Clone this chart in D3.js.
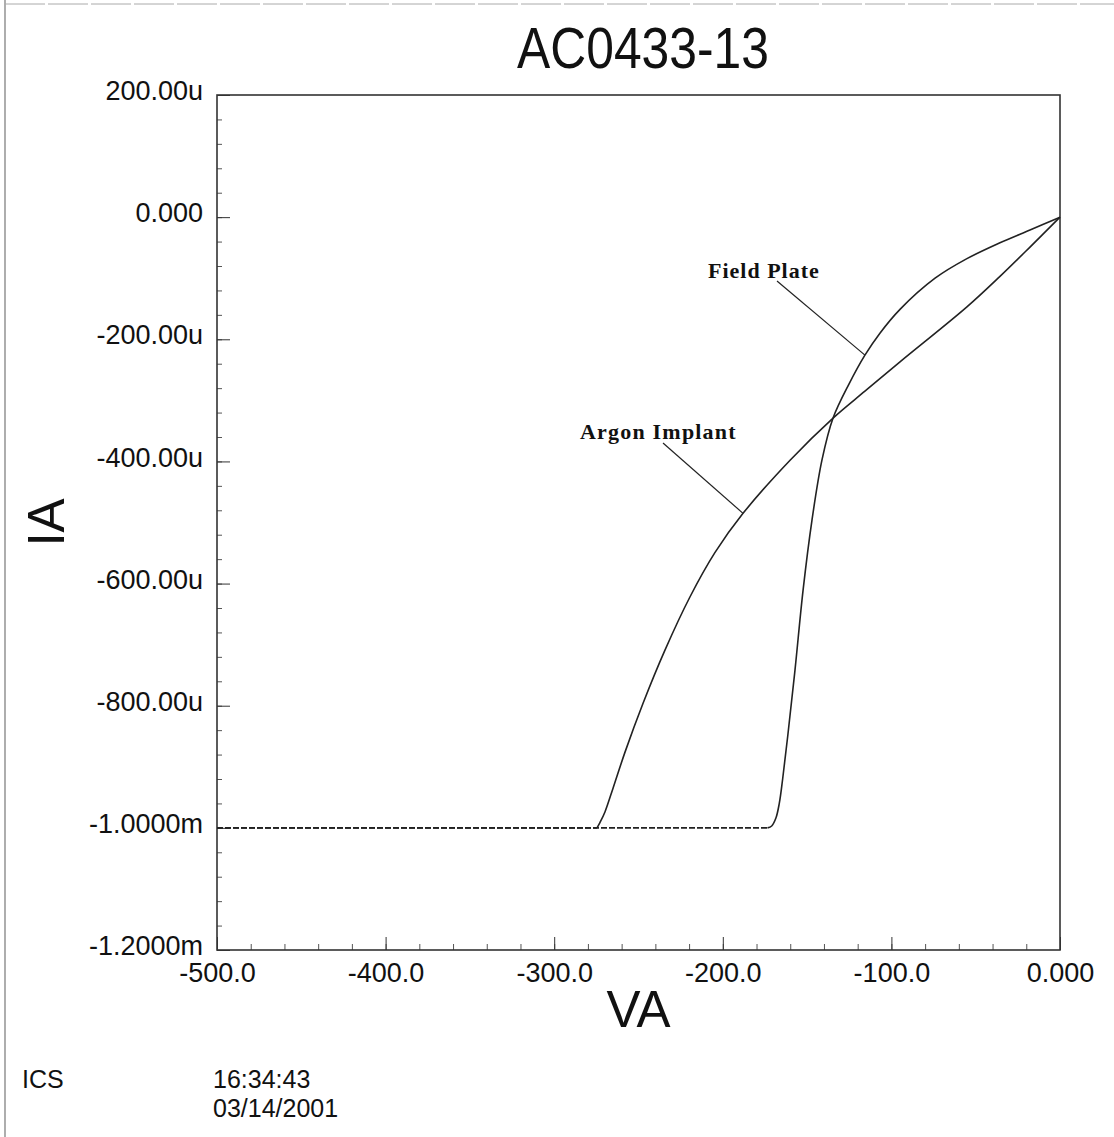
<!DOCTYPE html>
<html lang="en">
<head>
<meta charset="UTF-8">
<title>AC0433-13</title>
<script src="https://d3js.org/d3.v7.min.js"></script>
<style>
  body { margin: 0; background: #fff; }
  text { font-family: "Liberation Sans", Arial, sans-serif; fill: #111; }
  .note { font-family: "Liberation Serif", "Times New Roman", serif; font-weight: bold; }
</style>
</head>
<body>
<script>
// data: VA in volts, IA in mA
var argonV = [0, -17.8, -35.6, -55.2, -94.9, -115.7, -134.6, -160.1, -188.0, -204.6, -219.5, -234.3, -247.3, -258.0, -265.1, -269.9, -272.8, -274.6, -500];
var argonI = [0, -0.049, -0.097, -0.147, -0.237, -0.285, -0.329, -0.398, -0.485, -0.549, -0.622, -0.709, -0.796, -0.876, -0.935, -0.974, -0.991, -1.000, -1.000];

var fieldV = [0, -17.8, -35.6, -55.2, -74.1, -94.9, -106.8, -115.7, -125.1, -134.6, -141.2, -147.1, -152.4, -157.2, -161.5, -164.5, -166.5, -168.5, -171.0, -173.5, -500];
var fieldI = [0, -0.021, -0.042, -0.068, -0.100, -0.151, -0.190, -0.226, -0.273, -0.329, -0.398, -0.496, -0.611, -0.742, -0.850, -0.920, -0.960, -0.984, -0.997, -1.000, -1.000];

var yTicks = [0.2, 0, -0.2, -0.4, -0.6, -0.8, -1.0, -1.2];
var yLabels = ["200.00u", "0.000", "-200.00u", "-400.00u", "-600.00u", "-800.00u", "-1.0000m", "-1.2000m"];
var xTicks = [-500, -400, -300, -200, -100, 0];
var xLabels = ["-500.0", "-400.0", "-300.0", "-200.0", "-100.0", "0.000"];

var W = 1114, H = 1137;
var plotL = 217, plotR = 1060, plotT = 95, plotB = 950;

var svg = d3.select("body").append("svg")
    .attr("width", W)
    .attr("height", H);

var x = d3.scaleLinear().domain([-500, 0]).range([plotL, plotR]);
var y = d3.scaleLinear().domain([-1.2, 0.2]).range([plotB, plotT]);

// page edges from the scan
svg.append("line").attr("x1", 5).attr("x2", 5).attr("y1", 0).attr("y2", H)
    .attr("stroke", "#777").attr("stroke-width", 1.2);
svg.append("line").attr("x1", 5).attr("x2", W).attr("y1", 4).attr("y2", 4)
    .attr("stroke", "#aaa").attr("stroke-width", 1).attr("stroke-dasharray", "40,3");

// minor ticks
svg.append("g")
    .attr("transform", "translate(" + plotL + ",0)")
    .call(d3.axisLeft(y).tickValues(d3.range(-1.2, 0.2001, 0.04)).tickSize(-5).tickFormat(""))
    .call(g => g.select(".domain").remove())
    .selectAll("line").attr("stroke", "#555");
svg.append("g")
    .attr("transform", "translate(0," + plotB + ")")
    .call(d3.axisBottom(x).tickValues(d3.range(-500, 0.1, 20)).tickSize(-6).tickFormat(""))
    .call(g => g.select(".domain").remove())
    .selectAll("line").attr("stroke", "#555");

// major ticks + labels
var yAxis = svg.append("g")
    .attr("transform", "translate(" + plotL + ",0)")
    .call(d3.axisLeft(y).tickValues(yTicks).tickSize(-13).tickPadding(14)
        .tickFormat((d, i) => yLabels[i]));
yAxis.select(".domain").remove();
yAxis.selectAll("line").attr("stroke", "#333");
yAxis.selectAll("text").style("font-size", "27px").attr("fill", "#111").attr("y", -4);

var xAxis = svg.append("g")
    .attr("transform", "translate(0," + plotB + ")")
    .call(d3.axisBottom(x).tickValues(xTicks).tickSize(-13).tickPadding(13)
        .tickFormat((d, i) => xLabels[i]));
xAxis.select(".domain").remove();
xAxis.selectAll("line").attr("stroke", "#333");
xAxis.selectAll("text").style("font-size", "27px").attr("fill", "#111");

// frame
svg.append("rect")
    .attr("x", plotL).attr("y", plotT)
    .attr("width", plotR - plotL).attr("height", plotB - plotT)
    .attr("fill", "none").attr("stroke", "#333").attr("stroke-width", 1.6);

// curves: smooth part up to the -1 mA compliance, then a straight flat run
var smooth = d3.line()
    .x(d => x(d[0]))
    .y(d => y(d[1]))
    .curve(d3.curveCatmullRom.alpha(0.5));
var straight = d3.line()
    .x(d => x(d[0]))
    .y(d => y(d[1]));

function drawCurve(vs, is) {
    var pts = d3.zip(vs, is);
    var n = pts.length;
    svg.append("path")
        .datum(pts.slice(0, n - 1))
        .attr("d", smooth)
        .attr("fill", "none").attr("stroke", "#222").attr("stroke-width", 1.6);
    // flat run drawn from the -500 V end so both dash patterns line up
    svg.append("path")
        .datum(pts.slice(n - 2).reverse())
        .attr("d", straight)
        .attr("fill", "none").attr("stroke", "#222").attr("stroke-width", 1.6)
        .attr("stroke-dasharray", "6,2");
}
drawCurve(argonV, argonI);
drawCurve(fieldV, fieldI);

// annotations
svg.append("text").attr("class", "note")
    .attr("x", 708).attr("y", 278)
    .style("font-size", "22px").style("letter-spacing", "1px")
    .text("Field Plate");
svg.append("line")
    .attr("x1", 777).attr("y1", 281).attr("x2", x(-115.7)).attr("y2", y(-0.226))
    .attr("stroke", "#222").attr("stroke-width", 1.2);

svg.append("text").attr("class", "note")
    .attr("x", 580).attr("y", 439)
    .style("font-size", "22px").style("letter-spacing", "1.2px")
    .text("Argon Implant");
svg.append("line")
    .attr("x1", 663).attr("y1", 443).attr("x2", x(-188.0)).attr("y2", y(-0.485))
    .attr("stroke", "#222").attr("stroke-width", 1.2);

// titles
svg.append("text")
    .attr("x", 643).attr("y", 68)
    .attr("text-anchor", "middle")
    .attr("textLength", 252).attr("lengthAdjust", "spacingAndGlyphs")
    .style("font-size", "58px")
    .text("AC0433-13");

svg.append("text")
    .attr("x", (plotL + plotR) / 2).attr("y", 1027)
    .attr("text-anchor", "middle")
    .style("font-size", "51px")
    .text("VA");

svg.append("text")
    .attr("transform", "translate(64," + (plotT + plotB) / 2 + ") rotate(-90)")
    .attr("text-anchor", "middle")
    .style("font-size", "51px")
    .text("IA");

// footer
svg.append("text").attr("x", 22).attr("y", 1088).style("font-size", "25px").text("ICS");
svg.append("text").attr("x", 213).attr("y", 1088).style("font-size", "25px").text("16:34:43");
svg.append("text").attr("x", 213).attr("y", 1117).style("font-size", "25px").text("03/14/2001");
</script>
</body>
</html>
